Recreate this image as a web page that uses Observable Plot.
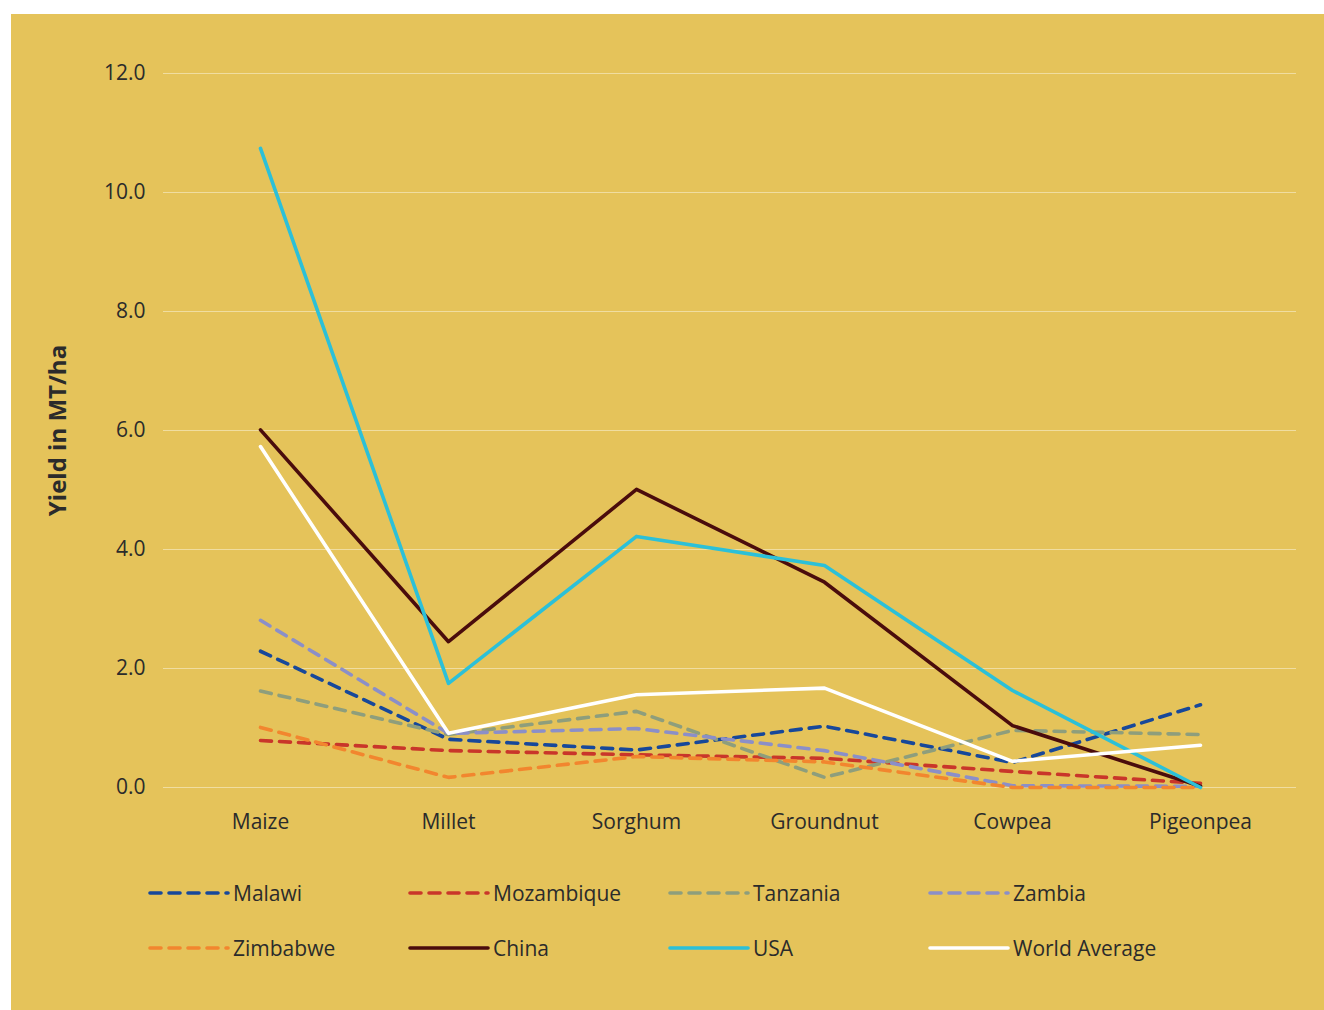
<!DOCTYPE html>
<html>
<head>
<meta charset="utf-8">
<script src="https://cdn.jsdelivr.net/npm/d3@7"></script>
<script src="https://cdn.jsdelivr.net/npm/@observablehq/plot@0.6"></script>
<style>
  html, body { margin: 0; padding: 0; background: #ffffff; }
  #frame {
    position: absolute; left: 11px; top: 14px; width: 1313px; height: 996px;
    background: #E5C35A; font-family: "Open Sans", sans-serif; color: #2b2b2b;
  }
  #chart svg { display: block; }
  #chart svg [aria-label="y-axis label"] text { font-weight: bold; font-size: 24px; }
  #legend { position: absolute; left: 137px; top: 851px; }
  .row { display: flex; height: 55px; align-items: center; }
  .item { width: 260px; display: flex; align-items: center; font-size: 21px; }
  .item svg { margin-right: 3px; }
</style>
</head>
<body>
<div id="frame">
  <div id="chart"></div>
  <div id="legend"></div>
</div>
<script>
const crops = ["Maize", "Millet", "Sorghum", "Groundnut", "Cowpea", "Pigeonpea"];
const seriesNames = ["Malawi", "Mozambique", "Tanzania", "Zambia", "Zimbabwe", "China", "USA", "World Average"];
const malawi     = [2.29, 0.81, 0.63, 1.03, 0.42, 1.39];
const mozambique = [0.79, 0.62, 0.55, 0.49, 0.27, 0.07];
const tanzania   = [1.62, 0.89, 1.28, 0.17, 0.96, 0.89];
const zambia     = [2.81, 0.91, 0.99, 0.62, 0.03, 0.02];
const zimbabwe   = [1.01, 0.17, 0.52, 0.43, 0.00, 0.00];
const china      = [6.01, 2.45, 5.01, 3.45, 1.04, 0.02];
const usa        = [10.74, 1.75, 4.22, 3.73, 1.63, 0.00];
const world      = [5.73, 0.91, 1.56, 1.67, 0.44, 0.71];
const yTicks = [0, 2, 4, 6, 8, 10, 12];
const colors = ["#17489A", "#C9362A", "#8E9E7C", "#8B8FC8", "#F2862E", "#4A0C0C", "#2CC0D8", "#FFFFFF"];
const dashed = [true, true, true, true, true, false, false, false];

const valuesList = [malawi, mozambique, tanzania, zambia, zimbabwe, china, usa, world];
const DASH = "11,8";

const lineMarks = seriesNames.map((name, i) => {
  const data = crops.map((c, j) => ({crop: c, value: valuesList[i][j]}));
  return Plot.line(data, {
    x: "crop", y: "value",
    stroke: colors[i], strokeWidth: 3.6,
    strokeDasharray: dashed[i] ? DASH : null,
    strokeLinecap: "round", strokeLinejoin: "round"
  });
});

const plot = Plot.plot({
  width: 1313,
  height: 830,
  marginLeft: 152,
  marginRight: 28,
  marginTop: 59,
  marginBottom: 57,
  style: { background: "transparent", fontFamily: "Open Sans, sans-serif", color: "#2b2b2b" },
  x: { type: "point", domain: crops, padding: 0.5 },
  y: { domain: [0, 12] },
  marks: [
    Plot.gridY(yTicks, { stroke: "#F0DDA0", strokeOpacity: 1, strokeWidth: 1 }),
    Plot.axisY({
      ticks: yTicks, tickFormat: d3.format(".1f"), tickSize: 0, tickPadding: 18,
      fontSize: 21, label: "Yield in MT/ha", labelAnchor: "center", labelArrow: "none",
      labelOffset: 115
    }),
    Plot.axisX({ tickSize: 0, tickPadding: 27, fontSize: 21, label: null }),
    ...lineMarks
  ]
});
document.getElementById("chart").appendChild(plot);

// legend
const legend = document.getElementById("legend");
for (let r = 0; r < 2; r++) {
  const row = document.createElement("div");
  row.className = "row";
  for (let c = 0; c < 4; c++) {
    const i = r * 4 + c;
    const item = document.createElement("div");
    item.className = "item";
    const ns = "http://www.w3.org/2000/svg";
    const sw = document.createElementNS(ns, "svg");
    sw.setAttribute("width", 82); sw.setAttribute("height", 10);
    const ln = document.createElementNS(ns, "line");
    ln.setAttribute("x1", 2); ln.setAttribute("x2", 80);
    ln.setAttribute("y1", 5); ln.setAttribute("y2", 5);
    ln.setAttribute("stroke", colors[i]);
    ln.setAttribute("stroke-width", 3.6);
    ln.setAttribute("stroke-linecap", "round");
    if (dashed[i]) ln.setAttribute("stroke-dasharray", DASH);
    sw.appendChild(ln);
    item.appendChild(sw);
    const t = document.createElement("span");
    t.textContent = seriesNames[i];
    item.appendChild(t);
    row.appendChild(item);
  }
  legend.appendChild(row);
}
</script>
</body>
</html>
